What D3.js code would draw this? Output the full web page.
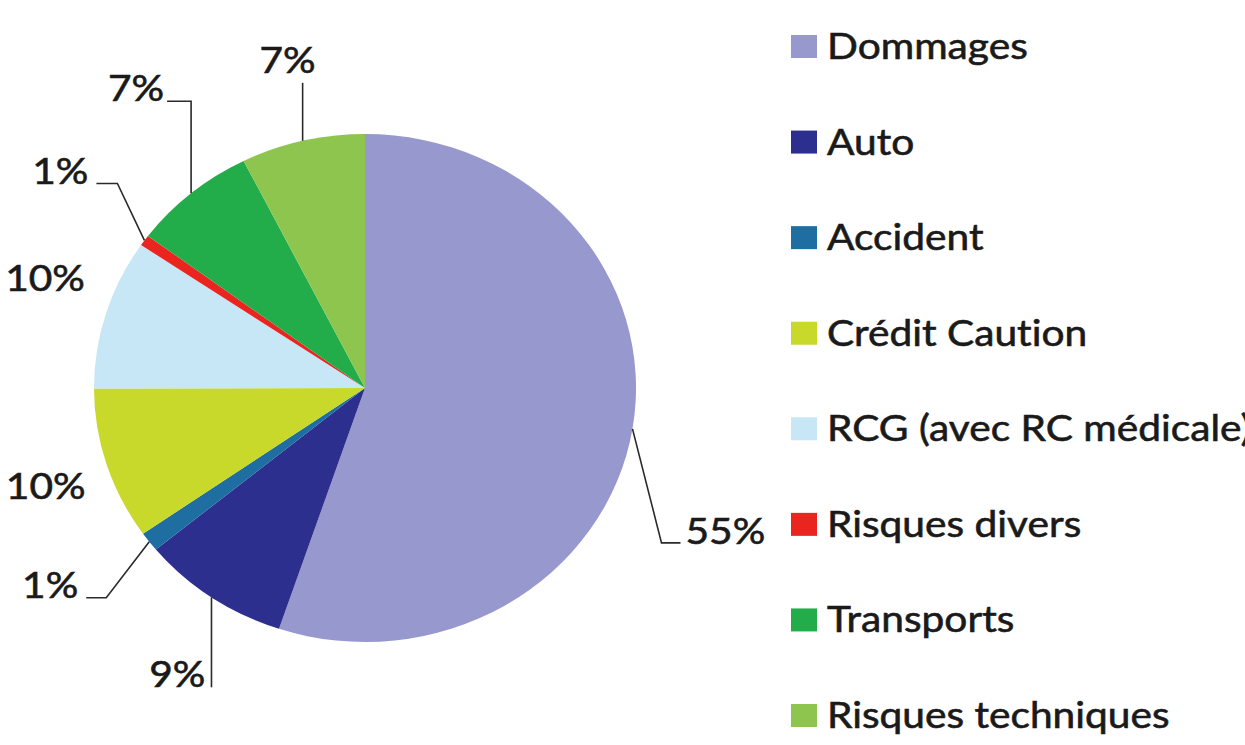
<!DOCTYPE html>
<html>
<head>
<meta charset="utf-8">
<script src="https://cdn.jsdelivr.net/npm/d3@7"></script>
<style>
  body { margin: 0; background: #fff; }
  text {
    font-family: Lato, "Open Sans", sans-serif;
    fill: #1a1a1a;
    stroke: #1a1a1a;
    stroke-width: 0.6px;
    font-variant-ligatures: none;
  }
</style>
</head>
<body>
<div id="chart"></div>
<script>

var categories = ["Dommages", "Auto", "Accident", "Crédit Caution", "RCG (avec RC médicale)", "Risques divers", "Transports", "Risques techniques"];
var shares = [55.2, 8.9, 1.25, 9.7, 9.56, 0.7, 7.4, 7.4];
var colors = ["#9798CE", "#2C2F8E", "#1E6EA2", "#C9D92B", "#C8E7F6", "#EA2520", "#23AD4A", "#8DC54E"];


var W = 1245, H = 745;
var cx = 365, cy = 388, R = 254, sx = 1.067;
var textSx = 1.13;


// where each label sits, relative to the slice's mid point on the rim
var labelLayout = [
    { leader: [[29, 114], [48, 114]], tx: 53, ty: 115, anchor: "start" },
    { leader: [[0, 90]], tx: -6, ty: 90, anchor: "end" },
    { leader: [[-43, 56], [-63, 56]], tx: -71, ty: 56, anchor: "end" },
    { leader: null, tx: -21, ty: 34, anchor: "end" },
    { leader: null, tx: -21, ty: -22, anchor: "end" },
    { leader: [[-27, -57], [-48, -57]], tx: -56, ty: -56, anchor: "end" },
    { leader: [[0, -92], [-24, -92]], tx: -27, ty: -92, anchor: "end" },
    { leader: [[0, -58]], tx: 13, ty: -68, anchor: "end" }
];

var svg = d3.select("#chart").append("svg")
    .attr("width", W)
    .attr("height", H);

var total = d3.sum(shares);

var pie = d3.pie().sort(null).value(function(d) { return d; });
var arc = d3.arc().innerRadius(0).outerRadius(R);
var arcs = pie(shares);

var pieG = svg.append("g")
    .attr("transform", "translate(" + cx + "," + cy + ") scale(" + sx + ",1)");

pieG.selectAll("path")
    .data(arcs)
    .enter().append("path")
    .attr("d", arc)
    .attr("fill", function(d, i) { return colors[i]; });


function rimPoint(d) {
    var a = (d.startAngle + d.endAngle) / 2;
    return [cx + sx * R * Math.sin(a), cy - R * Math.cos(a)];
}

var lineGen = d3.line();

arcs.forEach(function(d, i) {
    var p = rimPoint(d);
    var lay = labelLayout[i];
    if (lay.leader) {
        var pts = [p].concat(lay.leader.map(function(o) { return [p[0] + o[0], p[1] + o[1]]; }));
        svg.append("path")
            .attr("d", lineGen(pts))
            .attr("fill", "none")
            .attr("stroke", "#2a2a2a")
            .attr("stroke-width", 1.6);
    }
    svg.append("text")
        .attr("transform", "translate(" + (p[0] + lay.tx) + "," + (p[1] + lay.ty) + ") scale(" + textSx + ",1)")
        .attr("text-anchor", lay.anchor)
        .style("font-size", "36px")
        .text(Math.round(d.value / total * 100) + "%");
});


// legend
var legend = svg.append("g");
var rowY = d3.scalePoint().domain(d3.range(categories.length)).range([59, 728]);

var rows = legend.selectAll("g")
    .data(categories)
    .enter().append("g")
    .attr("transform", function(d, i) { return "translate(791," + rowY(i) + ")"; });

rows.append("rect")
    .attr("x", 0)
    .attr("y", -24)
    .attr("width", 26)
    .attr("height", 23)
    .attr("fill", function(d, i) { return colors[i]; });

rows.append("text")
    .attr("transform", "translate(36,0) scale(" + textSx + ",1)")
    .style("font-size", "36px")
    .text(function(d) { return d; });

</script>
</body>
</html>
